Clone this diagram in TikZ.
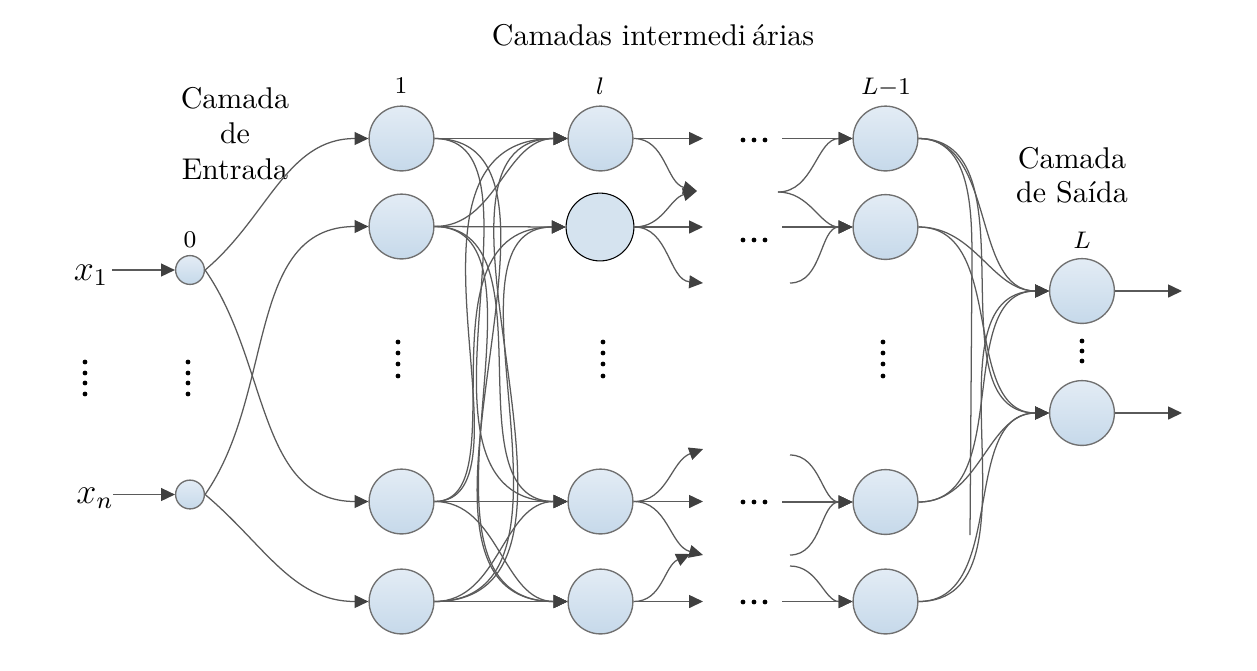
\documentclass[tikz,border=0pt]{standalone}
\usetikzlibrary{arrows.meta}
\definecolor{edgecol}{HTML}{5A5A5A}
\definecolor{tipcol}{HTML}{404040}
\definecolor{nodetop}{HTML}{E3ECF5}
\definecolor{nodebot}{HTML}{C6D9EA}
\definecolor{nodeline}{HTML}{707070}
\definecolor{hlfill}{HTML}{D5E3EF}
\begin{document}
\begin{tikzpicture}[x=0.33333pt,y=-0.33333pt,
  neuron/.style={circle, draw=nodeline, line width=0.45pt, top color=nodetop, bottom color=nodebot, minimum size=21.6pt, inner sep=0pt},
  smallneuron/.style={neuron, minimum size=9.6pt},
  hlneuron/.style={circle, draw=black, line width=0.35pt, fill=hlfill, minimum size=22.6pt, inner sep=0pt},
  conn/.style={draw=edgecol, line width=0.42pt},
  arr/.style={conn, -{Triangle[length=4.6pt,width=4.3pt,color=tipcol]}},
  curv/.style={out=0,in=180},
  lo/.style 2 args={out=0,in=180,out looseness=#1,in looseness=#2},
  dotmark/.style={fill=black},
  title/.style={font=\fontsize{10}{12}\selectfont, anchor=base, inner sep=0pt},
  lbl/.style={font=\fontsize{8}{10}\selectfont, inner sep=0pt},
  xin/.style={font=\fontsize{12}{14}\selectfont, anchor=base, inner sep=0pt}
]
\useasboundingbox (0,0) rectangle (1257,670);

% ---- texts ----
\node[title] (tmid) at (653,45) {Camadas intermedi\kern2pt árias};
\node[title] (tin1) at (235,108) {Camada};
\node[title] (tin2) at (235,143) {de};
\node[title] (tin3) at (235,179) {Entrada};
\node[title] (tout1) at (1072,168) {Camada};
\node[title] (tout2) at (1072,202) {de Saída};

\node[lbl] (lab0) at (190,240) {$0$};
\node[lbl] (lab1) at (401,86) {$1$};
\node[lbl] (labl) at (600,86) {$l$};
\node[lbl] (labm) at (886,88) {$L{-}1$};
\node[lbl] (labL) at (1082,240) {$L$};

\node[xin] (x1) at (91,280) {$x_1$};
\node[xin] (xn) at (95,503) {$x_n$};

% ---- neurons ----
\node[smallneuron] (i1) at (190,270) {};
\node[smallneuron] (i2) at (190,494.5) {};

\node[neuron] (h1a) at (401.5,138.5) {};
\node[neuron] (h1b) at (401.5,226.5) {};
\node[neuron] (h1c) at (401.5,501.5) {};
\node[neuron] (h1d) at (401.5,601.5) {};

\node[neuron]   (hla) at (600.5,138.5) {};
\node[hlneuron] (hlb) at (600,227) {};
\node[neuron]   (hlc) at (600.5,501.5) {};
\node[neuron]   (hld) at (600.5,601.5) {};

\node[neuron] (hma) at (885.5,138.5) {};
\node[neuron] (hmb) at (885.5,227) {};
\node[neuron] (hmc) at (885.5,502) {};
\node[neuron] (hmd) at (885.5,601.5) {};

\node[neuron] (oa) at (1082,291) {};
\node[neuron] (ob) at (1082,413) {};

% ---- free ends ----
\coordinate (s1) at (112,270);
\coordinate (s2) at (113,494.5);

\coordinate (la1) at (703,138.5);
\coordinate (lab) at (697,191);
\coordinate (lb2) at (703,227);
\coordinate (lb3) at (703,283);
\coordinate (lc1) at (703,449);
\coordinate (lc2) at (703,501.5);
\coordinate (lc3) at (703,555);
\coordinate (ld1) at (690,554);
\coordinate (ld2) at (703,601.5);

\coordinate (ma0) at (782,138.5);
\coordinate (mab) at (778,192);
\coordinate (mb0) at (782,227);
\coordinate (mb1) at (790,283);
\coordinate (mc1) at (790,455);
\coordinate (mc0) at (782,502);
\coordinate (mc2) at (790,555);
\coordinate (md1) at (790,566);
\coordinate (md0) at (782,601.5);

\coordinate (vtop) at (972,260);
\coordinate (vend) at (970,535);

\coordinate (oa1) at (1182,291);
\coordinate (ob1) at (1182,413);

% ---- inputs ----
\draw[arr] (s1) -- (i1.west);
\draw[arr] (s2) -- (i2.west);

% ---- layer 0 -> 1 ----
\draw[arr] (i1.east) to[out=40,in=180] (h1a.west);
\draw[arr] (i1.east) to[out=-55,in=180] (h1c.west);
\draw[arr] (i2.east) to[out=55,in=180] (h1b.west);
\draw[arr] (i2.east) to[out=-40,in=180] (h1d.west);

% ---- layer 1 -> l ----
\draw[arr] (h1a.east) -- (hla.west);
\draw[arr] (h1a.east) to[lo={0.82}{1.18}] (hlc.west);
\draw[arr] (h1a.east) to[lo={0.92}{1.08}] (hld.west);
\draw[arr] (h1b.east) to[curv] (hla.west);
\draw[arr] (h1b.east) -- (hlb.west);
\draw[arr] (h1b.east) to[lo={1}{1}] (hlc.west);
\draw[arr] (h1b.east) to[lo={0.85}{1.15}] (hld.west);
\draw[arr] (h1c.east) to[lo={0.72}{1.28}] (hla.west);
\draw[arr] (h1c.east) to[lo={0.72}{1.28}] (hlb.west);
\draw[arr] (h1c.east) -- (hlc.west);
\draw[arr] (h1c.east) to[curv] (hld.west);
\draw[arr] (h1d.east) to[lo={1.06}{0.94}] (hla.west);
\draw[arr] (h1d.east) to[lo={1.1}{0.9}] (hlb.west);
\draw[arr] (h1d.east) to[curv] (hlc.west);
\draw[arr] (h1d.east) -- (hld.west);

% ---- layer l -> free ends ----
\draw[arr] (hla.east) -- (la1);
\draw[arr] (hla.east) to[out=0,in=165] (lab);
\draw[arr] (hlb.east) to[out=0,in=195] (lab);
\draw[arr] (hlb.east) -- (lb2);
\draw[arr] (hlb.east) to[out=0,in=175] (lb3);
\draw[arr] (hlc.east) to[out=0,in=200] (lc1);
\draw[arr] (hlc.east) -- (lc2);
\draw[arr] (hlc.east) to[out=0,in=165] (lc3);
\draw[arr] (hld.east) to[out=0,in=205] (ld1);
\draw[arr] (hld.east) -- (ld2);

% ---- free ends -> layer L-1 ----
\draw[arr] (ma0) -- (hma.west);
\draw[arr] (mab) to[curv] (hma.west);
\draw[arr] (mab) to[curv] (hmb.west);
\draw[arr] (mb0) -- (hmb.west);
\draw[arr] (mb1) to[curv] (hmb.west);
\draw[arr] (mc1) to[curv] (hmc.west);
\draw[arr] (mc0) -- (hmc.west);
\draw[arr] (mc2) to[curv] (hmc.west);
\draw[arr] (md1) to[curv] (hmd.west);
\draw[arr] (md0) -- (hmd.west);

% ---- layer L-1 -> L ----
\foreach \s in {hma,hmb,hmc,hmd}{
  \draw[arr] (\s.east) to[curv] (oa.west);
  \draw[arr] (\s.east) to[curv] (ob.west);
}
\draw[conn] (hma.east) to[out=0,in=90] (vtop) -- (vend);

% ---- outputs ----
\draw[arr] (oa.east) -- (oa1);
\draw[arr] (ob.east) -- (ob1);

% ---- ellipsis dots ----
\foreach \y in {362,373,383,394}{
  \fill[dotmark] (85,\y) circle[radius=0.8pt];
  \fill[dotmark] (188,\y) circle[radius=0.8pt];
}
\foreach \y in {342,353,364,376}{
  \fill[dotmark] (398,\y) circle[radius=0.8pt];
  \fill[dotmark] (603,\y) circle[radius=0.8pt];
  \fill[dotmark] (883,\y) circle[radius=0.8pt];
}
\foreach \y in {341,351,361}{
  \fill[dotmark] (1082,\y) circle[radius=0.8pt];
}
\foreach \y in {140,240,502,602}{
  \foreach \x in {743,754,765}{
    \fill[dotmark] (\x,\y) circle[radius=0.8pt];
  }
}
\end{tikzpicture}
\end{document}
